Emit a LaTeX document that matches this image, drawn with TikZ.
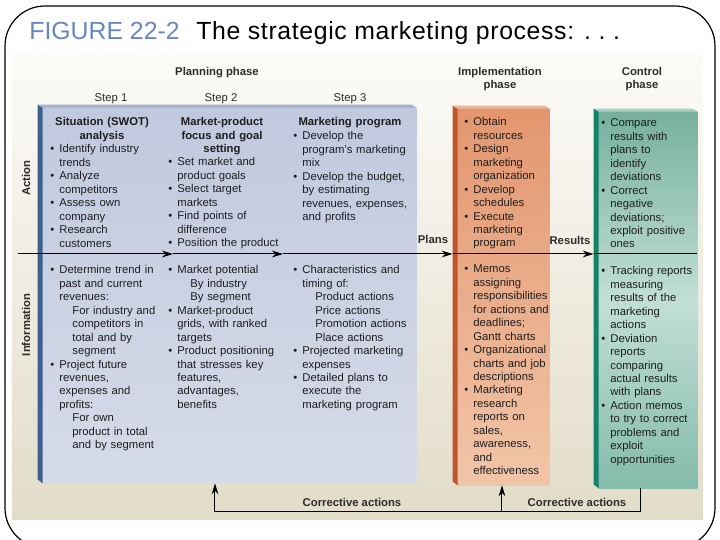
\documentclass[tikz,border=0pt]{standalone}
\usepackage{fontspec}
\setmainfont{Liberation Sans}
\newfontfamily\ttlfont[LetterSpace=2.6]{Liberation Sans}
\usetikzlibrary{arrows.meta,calc,fit}
\definecolor{txtc}{RGB}{30,30,30}
\definecolor{labc}{RGB}{45,45,45}
\definecolor{titleblue}{RGB}{104,134,196}
\definecolor{bgtop}{RGB}{252,251,248}
\definecolor{bgbot}{RGB}{226,220,200}
\definecolor{bfaceT}{RGB}{192,201,222}
\definecolor{bfaceB}{RGB}{214,219,232}
\definecolor{bside}{RGB}{62,96,145}
\definecolor{btop}{RGB}{166,177,201}
\definecolor{ofaceT}{RGB}{227,150,110}
\definecolor{ofaceB}{RGB}{242,197,168}
\definecolor{oside}{RGB}{192,86,46}
\definecolor{otop}{RGB}{236,182,152}
\definecolor{gfaceT}{RGB}{118,176,158}
\definecolor{gfaceM}{RGB}{194,223,214}
\definecolor{gfaceB}{RGB}{132,187,171}
\definecolor{gside}{RGB}{20,130,105}
\definecolor{gtop}{RGB}{170,208,196}
\newcommand{\bu}{\makebox[4.5pt][l]{\textbullet}}
\newcommand{\hg}{\hspace*{4.5pt}}
\newcommand{\sbi}{\hspace*{11pt}}
% slab: #1 node name, #2 face shading options, #3 side colour, #4 top colour
\newcommand{\slab}[4]{%
  \shade[#2] ($(#1.north west)+(5,3)$) rectangle (#1.south east);
  \fill[#3] (#1.north west) -- ($(#1.north west)+(5,3)$) -- ($(#1.south west)+(5,0)$) -- ($(#1.south west)+(0,-4)$) -- cycle;
  \fill[#4] (#1.north west) -- ($(#1.north east)+(-5,0)$) -- ($(#1.north east)+(0,3)$) -- ($(#1.north west)+(5,3)$) -- cycle;
}
\begin{document}
\begin{tikzpicture}[x=0.5pt,y=-0.5pt,
  txt/.style={anchor=base west, inner sep=0pt, text width=70pt, align=left, text=txtc, font=\fontsize{5.65}{6.72}\selectfont},
  hd/.style={anchor=base, inner sep=0pt, text width=80pt, align=center, text=txtc, font=\bfseries\fontsize{5.65}{6.72}\selectfont},
  lab/.style={anchor=base, inner sep=0pt, text=labc, font=\fontsize{5.65}{6.5}\selectfont},
  blab/.style={lab, font=\bfseries\fontsize{5.65}{6.5}\selectfont},
  line/.style={line width=0.5pt, draw=black},
  arr/.style={line, -{Stealth[length=5.5pt,width=3.4pt]}},
  box/.style={inner sep=0pt, draw=none}]
\useasboundingbox (0,0) rectangle (720,540);
\clip (0,0) rectangle (720,540);
\fill[white] (0,0) rectangle (720,540);
% background
\shade[top color=bgtop, bottom color=bgbot] (12,55) rectangle (703,520);
% frame
\draw[line width=0.6pt, rounded corners=20pt] (5,6) rectangle (715,548);
% title
\node[anchor=base west, inner sep=0pt, text=titleblue, font=\fontsize{12.4}{14}\selectfont] (fig) at (29,40) {FIGURE 22-2};
\node[anchor=base west, inner sep=0pt, text=black, font=\ttlfont\fontsize{12.4}{14}\selectfont] (ttl) at (196,40) {The strategic marketing process: .\ .\ .};
% boxes
\node[box, fit={(38,105) (416,483)}] (plan) {};
\node[box, fit={(453,106) (549,485)}] (impl) {};
\node[box, fit={(594,109) (697,488)}] (ctrl) {};
\slab{plan}{top color=bfaceT, bottom color=bfaceB}{bside}{btop}
\slab{impl}{top color=ofaceT, bottom color=ofaceB}{oside}{otop}
\slab{ctrl}{top color=gfaceT, bottom color=gfaceB, middle color=gfaceM}{gside}{gtop}
% phase labels
\node[blab] (pp) at (217,76) {Planning phase};
\node[lab] (s1) at (111,102) {Step 1};
\node[lab] (s2) at (221,102) {Step 2};
\node[lab] (s3) at (350,102) {Step 3};
\node[blab, align=center] (ip) at (500,89) {Implementation\\phase};
\node[blab, align=center] (cp) at (642,89) {Control\\phase};
% side labels
\node[rotate=90, inner sep=0pt, text=labc, font=\bfseries\fontsize{5.65}{6.5}\selectfont] (act) at (26,178) {Action};
\node[rotate=90, inner sep=0pt, text=labc, font=\bfseries\fontsize{5.65}{6.5}\selectfont] (inf) at (26,325) {Information};
% column 1
\node[hd] (h1) at (102,126) {Situation (SWOT)\\analysis};
\node[txt] (b1) at (50,153) {\bu Identify industry\\\hg trends\\\bu Analyze\\\hg competitors\\\bu Assess own\\\hg company\\\bu Research\\\hg customers};
\node[txt] (i1) at (50,274) {\bu Determine trend in\\\hg past and current\\\hg revenues:\\\sbi For industry and\\\sbi competitors in\\\sbi total and by\\\sbi segment\\\bu Project future\\\hg revenues,\\\hg expenses and\\\hg profits:\\\sbi For own\\\sbi product in total\\\sbi and by segment};
% column 2
\node[hd] (h2) at (222,126) {Market-product\\focus and goal\\setting};
\node[txt] (b2) at (168,166) {\bu Set market and\\\hg product goals\\\bu Select target\\\hg markets\\\bu Find points of\\\hg difference\\\bu Position the product};
\node[txt] (i2) at (168,274) {\bu Market potential\\\sbi By industry\\\sbi By segment\\\bu Market-product\\\hg grids, with ranked\\\hg targets\\\bu Product positioning\\\hg that stresses key\\\hg features,\\\hg advantages,\\\hg benefits};
% column 3
\node[hd] (h3) at (350,126) {Marketing program};
\node[txt] (b3) at (293,140) {\bu Develop the\\\hg program's marketing\\\hg mix\\\bu Develop the budget,\\\hg by estimating\\\hg revenues, expenses,\\\hg and profits};
\node[txt] (i3) at (293,274) {\bu Characteristics and\\\hg timing of:\\\sbi Product actions\\\sbi Price actions\\\sbi Promotion actions\\\sbi Place actions\\\bu Projected marketing\\\hg expenses\\\bu Detailed plans to\\\hg execute the\\\hg marketing program};
% implementation
\node[txt] (b4) at (464,126) {\bu Obtain\\\hg resources\\\bu Design\\\hg marketing\\\hg organization\\\bu Develop\\\hg schedules\\\bu Execute\\\hg marketing\\\hg program};
\node[txt] (i4) at (464,273) {\bu Memos\\\hg assigning\\\hg responsibilities\\\hg for actions and\\\hg deadlines;\\\hg Gantt charts\\\bu Organizational\\\hg charts and job\\\hg descriptions\\\bu Marketing\\\hg research\\\hg reports on\\\hg sales,\\\hg awareness,\\\hg and\\\hg effectiveness};
% control
\node[txt] (b5) at (601,127) {\bu Compare\\\hg results with\\\hg plans to\\\hg identify\\\hg deviations\\\bu Correct\\\hg negative\\\hg deviations;\\\hg exploit positive\\\hg ones};
\node[txt] (i5) at (601,275) {\bu Tracking reports\\\hg measuring\\\hg results of the\\\hg marketing\\\hg actions\\\bu Deviation\\\hg reports\\\hg comparing\\\hg actual results\\\hg with plans\\\bu Action memos\\\hg to try to correct\\\hg problems and\\\hg exploit\\\hg opportunities};
% main flow line
\coordinate (ls) at (18,254);
\coordinate (t1) at (173,254);
\coordinate (t2) at (283,254);
\coordinate (le) at (697,254);
\draw[arr] (ls) -- (t1);
\draw[arr] (t1) -- (t2);
\draw[arr] (t2) -- (t2 -| impl.west);
\draw[arr] (t2 -| impl.west) -- (t2 -| ctrl.west);
\draw[line] (t2 -| ctrl.west) -- (le);
\node[blab] (plans) at (433,244) {Plans};
\node[blab] (res) at (570,245) {Results};
% corrective actions
\coordinate (cg) at (641,512);
\coordinate (cl) at (215,512);
\coordinate (ci) at (502,512);
\draw[line] (cg |- ctrl.south) -- (cg) -- (cl);
\draw[arr] (cl) -- (cl |- plan.south);
\draw[arr] (ci) -- (ci |- impl.south);
\node[blab] (ca1) at (352,507) {Corrective actions};
\node[blab] (ca2) at (577,507) {Corrective actions};
\end{tikzpicture}
\end{document}
